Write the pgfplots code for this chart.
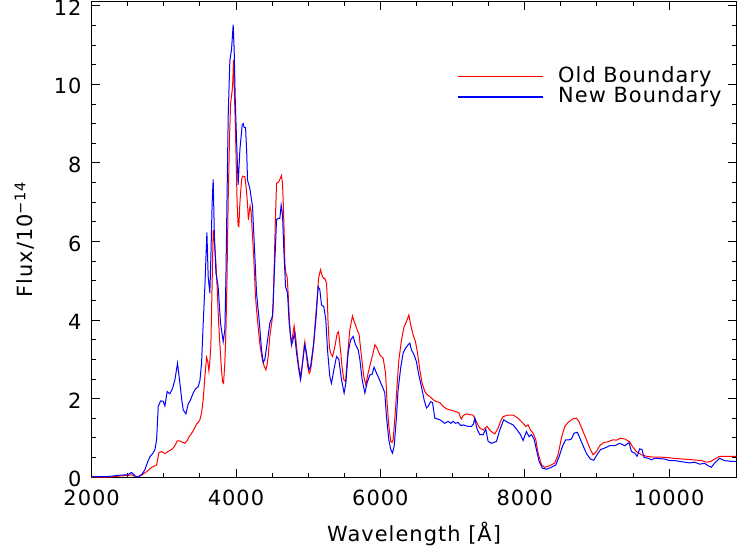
\documentclass[border=0pt]{standalone}
\usepackage{fontspec}
\setmainfont{DejaVu Sans}[LetterSpace=5]
\usepackage{pgfplots}
\pgfplotsset{compat=1.18}
\pgfplotstableread{
x y
2000 0.0
2200 0.0
2300 0.01
2400 0.03
2500 0.04
2550 0.06
2600 0.02
2650 0.01
2700 0.06
2762 0.14
2831 0.25
2900 0.31
2932 0.62
2969 0.65
3015 0.60
3050 0.64
3084 0.68
3120 0.72
3154 0.80
3186 0.92
3220 0.92
3246 0.90
3292 0.86
3330 0.95
3352 1.03
3380 1.10
3407 1.18
3430 1.26
3454 1.35
3480 1.40
3500 1.46
3525 1.65
3546 1.98
3569 2.56
3593 3.05
3608 2.95
3625 2.70
3640 3.0
3652 3.35
3668 4.8
3684 6.29
3700 6.0
3722 5.45
3740 4.8
3753 4.2
3770 3.6
3786 3.1
3800 2.7
3815 2.42
3828 2.39
3845 2.9
3860 3.66
3875 5.0
3892 7.05
3910 8.6
3925 9.5
3953 9.94
3966 10.62
3978 9.8
3994 8.75
4008 7.6
4017 6.89
4030 6.4
4040 6.38
4052 6.9
4063 7.22
4080 7.6
4091 7.66
4123 7.65
4145 7.3
4160 6.95
4172 6.55
4185 6.75
4195 6.9
4210 6.75
4230 6.1
4246 5.6
4270 4.6
4300 3.95
4330 3.4
4354 3.1
4386 2.85
4414 2.73
4430 2.85
4446 3.07
4470 3.6
4500 4.0
4515 4.3
4526 5.1
4545 6.5
4562 7.48
4594 7.52
4631 7.68
4645 7.45
4654 7.05
4668 6.2
4677 5.44
4690 5.2
4709 5.1
4725 4.6
4737 4.09
4755 3.6
4770 3.37
4785 3.6
4806 3.85
4825 3.6
4839 3.32
4870 2.81
4899 2.56
4915 2.8
4931 3.07
4945 3.35
4954 3.45
4975 3.1
4995 2.8
5014 2.64
5030 2.7
5047 2.9
5079 3.41
5100 4.0
5116 4.34
5144 5.06
5171 5.28
5199 5.1
5220 5.05
5231 5.06
5254 4.94
5266 4.5
5276 3.92
5295 3.3
5310 3.16
5338 3.07
5370 3.32
5402 3.66
5420 3.7
5429 3.58
5450 3.2
5470 2.8
5494 2.48
5518 2.43
5545 3.07
5577 3.75
5614 4.1
5630 4.0
5647 3.92
5679 3.75
5706 3.63
5725 3.3
5739 3.07
5771 2.56
5799 2.35
5831 2.65
5864 2.9
5900 3.16
5924 3.37
5956 3.28
5993 3.11
6039 3.03
6072 2.65
6094 1.88
6118 1.29
6145 0.91
6162 0.88
6177 0.95
6200 1.46
6228 2.22
6256 2.97
6293 3.49
6329 3.83
6362 3.96
6395 4.13
6418 3.9
6454 3.62
6487 3.45
6515 3.16
6547 2.73
6579 2.39
6616 2.18
6654 2.09
6686 2.05
6732 1.97
6779 1.92
6824 1.9
6870 1.8
6916 1.74
6963 1.71
7008 1.69
7055 1.66
7091 1.63
7110 1.52
7124 1.48
7145 1.56
7160 1.58
7193 1.61
7239 1.59
7285 1.58
7309 1.5
7346 1.35
7378 1.25
7424 1.2
7450 1.25
7479 1.29
7516 1.2
7550 1.14
7586 1.1
7632 1.25
7665 1.42
7701 1.54
7770 1.58
7839 1.58
7909 1.5
7950 1.42
7978 1.37
8015 1.29
8047 1.33
8080 1.2
8116 1.12
8154 0.95
8186 0.61
8233 0.31
8278 0.25
8348 0.29
8417 0.36
8463 0.57
8508 0.99
8555 1.29
8601 1.39
8662 1.48
8717 1.5
8753 1.41
8800 1.2
8846 1.0
8901 0.74
8947 0.57
8994 0.65
9040 0.8
9095 0.88
9155 0.9
9224 0.95
9271 0.94
9326 0.99
9386 0.97
9455 0.9
9493 0.78
9548 0.65
9617 0.57
9687 0.53
9778 0.51
9871 0.51
9964 0.5
10055 0.48
10194 0.46
10333 0.44
10449 0.42
10518 0.38
10577 0.40
10633 0.46
10702 0.53
10794 0.53
10940 0.53
}\oldtab
\pgfplotstableread{
x y
2000 0.01
2200 0.01
2300 0.03
2400 0.05
2500 0.06
2554 0.12
2590 0.05
2620 0.0
2660 0.02
2700 0.08
2738 0.19
2775 0.38
2808 0.52
2845 0.6
2877 0.7
2900 0.95
2912 1.4
2923 1.8
2956 1.94
2992 1.93
3015 1.81
3047 2.18
3084 2.12
3121 2.26
3154 2.48
3190 2.9
3223 2.39
3250 1.95
3269 1.71
3306 1.61
3338 1.86
3371 1.97
3407 2.14
3440 2.25
3476 2.3
3500 2.45
3523 2.9
3546 3.92
3570 4.9
3597 6.23
3615 5.1
3638 4.68
3652 5.6
3670 7.0
3684 7.58
3700 6.2
3722 5.2
3753 4.85
3786 3.92
3823 3.45
3846 3.75
3860 5.0
3869 6.2
3892 9.18
3915 10.6
3939 10.9
3961 11.52
3975 10.87
3990 9.6
4008 8.58
4030 7.44
4054 8.33
4086 8.97
4100 9.0
4113 8.9
4133 8.9
4150 8.2
4160 7.56
4192 7.35
4229 6.89
4262 5.61
4285 4.68
4321 4.0
4354 3.24
4377 2.92
4400 3.0
4432 3.41
4469 3.92
4506 4.1
4539 5.53
4562 6.55
4584 6.59
4608 6.59
4626 6.93
4645 6.67
4663 5.78
4687 4.85
4714 4.68
4737 3.92
4770 3.37
4784 3.45
4811 3.66
4839 3.16
4871 2.73
4894 2.48
4922 2.9
4954 3.37
4977 3.16
5010 2.73
5033 2.81
5070 3.32
5107 4.0
5139 4.85
5162 4.77
5185 4.38
5217 4.34
5245 4.0
5268 3.24
5300 2.56
5323 2.39
5356 2.73
5393 3.07
5425 3.0
5462 2.48
5498 2.14
5522 2.39
5554 3.16
5587 3.49
5623 3.58
5657 3.37
5693 3.24
5716 3.0
5748 2.48
5786 2.14
5817 2.4
5854 2.6
5886 2.62
5913 2.8
5946 2.65
5979 2.52
6007 2.39
6039 2.26
6062 2.14
6085 1.54
6118 0.95
6145 0.7
6168 0.61
6191 0.78
6224 1.54
6246 2.22
6284 2.81
6316 3.16
6348 3.28
6385 3.37
6408 3.41
6431 3.24
6468 3.11
6500 2.94
6533 2.6
6570 2.3
6606 1.97
6640 1.76
6662 1.8
6695 1.92
6723 1.9
6755 1.5
6792 1.48
6824 1.46
6857 1.42
6893 1.37
6939 1.42
6976 1.37
7008 1.42
7041 1.37
7078 1.39
7115 1.31
7147 1.33
7180 1.31
7216 1.29
7262 1.29
7290 1.35
7309 1.5
7330 1.3
7346 1.2
7378 1.08
7424 1.08
7461 1.22
7493 0.91
7540 0.86
7609 0.91
7655 1.2
7710 1.46
7770 1.39
7839 1.33
7895 1.2
7942 1.08
7978 0.93
8024 1.16
8061 1.03
8094 1.08
8130 0.97
8163 0.7
8200 0.4
8246 0.23
8301 0.2
8371 0.25
8431 0.31
8477 0.52
8523 0.78
8569 0.95
8615 0.95
8648 0.97
8684 1.12
8731 1.14
8763 1.0
8809 0.8
8856 0.6
8911 0.46
8957 0.43
9003 0.57
9050 0.7
9109 0.74
9178 0.8
9247 0.8
9317 0.86
9386 0.8
9446 0.88
9479 0.65
9525 0.61
9557 0.53
9594 0.72
9626 0.7
9654 0.5
9710 0.48
9756 0.44
9801 0.48
9871 0.47
9940 0.46
10009 0.42
10078 0.42
10148 0.4
10217 0.38
10286 0.36
10355 0.38
10425 0.33
10494 0.35
10540 0.29
10586 0.25
10633 0.36
10702 0.48
10771 0.42
10864 0.4
10940 0.4
}\newtab
\begin{document}
\begin{tikzpicture}
\begin{axis}[
  at={(0,0)}, anchor=south west,
  scale only axis, width=645.3bp, height=475.6bp,
  xmin=2000, xmax=10935, ymin=0, ymax=12.1,
  axis line style={line width=1bp, black},
  xtick={2000,4000,...,10000}, ytick={0,2,...,12},
  minor x tick num=3, minor y tick num=3,
  tick align=inside, major tick length=8.5bp, minor tick length=4.5bp,
  every tick/.style={black, line width=0.8bp},
  scaled x ticks=false,
  /pgf/number format/assume math mode=true,
  /pgf/number format/1000 sep={},
  tick label style={font=\fontsize{21}{25}\selectfont},
  xticklabel style={anchor=north, inner sep=0pt, yshift=-13bp},
  yticklabel style={anchor=east, inner sep=0pt, xshift=-10bp, yshift=-2bp},
  xlabel={Wavelength [Å]},
  ylabel={Flux/10\textsuperscript{−14}},
  label style={font=\fontsize{21}{25}\selectfont},
  xlabel style={at={(rel axis cs:0.5,-0.1354)}, anchor=base, inner sep=0pt},
  ylabel style={at={(rel axis cs:-0.091,0.5)}, anchor=base, inner sep=0pt},
  legend style={draw=none, fill=none, at={(rel axis cs:0.5661,0.866)}, anchor=north west,
    font=\fontsize{21}{25}\selectfont, row sep=-2.2bp, column sep=13bp, inner sep=0pt,
    nodes={inner sep=1.15bp, text height=15.5bp, text depth=4.5bp}},
  legend cell align=left,
  legend image code/.code={\draw[#1, line width=1.2bp] (0bp,0bp) -- (86bp,0bp);},
]
\addplot[red, line width=1bp] table[x=x, y=y] {\oldtab};
\addlegendentry{Old Boundary}
\addplot[blue, line width=1bp] table[x=x, y=y] {\newtab};
\addlegendentry{New Boundary}
\end{axis}
\path[use as bounding box] (-91.7bp,-75.7bp) rectangle (645.3bp,477.3bp);
\end{tikzpicture}
\end{document}
